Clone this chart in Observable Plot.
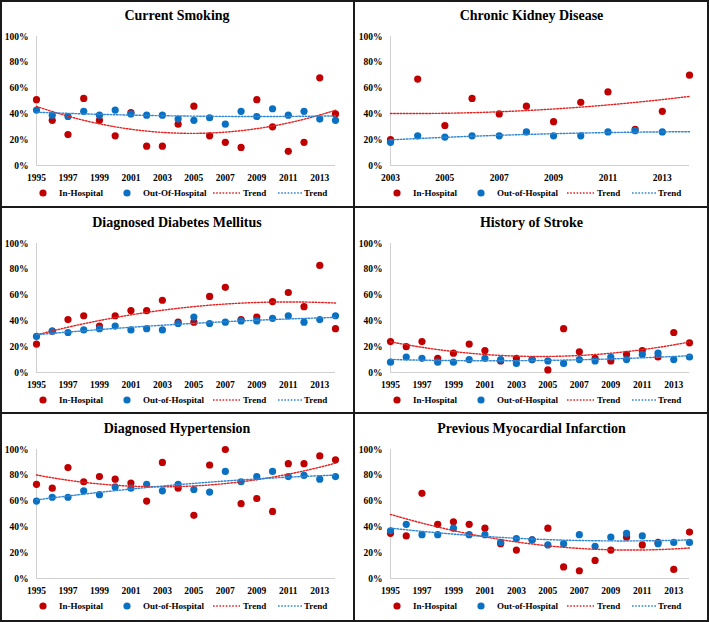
<!DOCTYPE html>
<html>
<head>
<meta charset="utf-8">
<script src="https://cdn.jsdelivr.net/npm/d3@7"></script>
<script src="https://cdn.jsdelivr.net/npm/@observablehq/plot@0.6"></script>
<style>
  html, body { margin: 0; padding: 0; background: #fff; }
  #wrap { position: relative; width: 709px; height: 622px; background: #fff; overflow: hidden;
          font-family: "Liberation Serif", "Times New Roman", serif; }
  .panel { position: absolute; overflow: hidden; }
  .title { position: absolute; left: 0; right: 0; top: 8px; text-align: center; font-weight: bold;
           font-size: 14px; color: #000; }
  .plotbox { position: absolute; left: 0; top: 26px; }
  .legend { position: absolute; left: 0; top: 186px; }
  .line { position: absolute; background: #1a1a1a; z-index: 10; }
</style>
</head>
<body>
<div id="wrap"></div>
<script>
// ---- data (percent values) ----
const yearsLong = [1995,1996,1997,1998,1999,2000,2001,2002,2003,2004,2005,2006,2007,2008,2009,2010,2011,2012,2013,2014];
const yearsCKD  = [2003,2004,2005,2006,2007,2008,2009,2010,2011,2012,2013,2014];
const tickYearsLong = [1995,1997,1999,2001,2003,2005,2007,2009,2011,2013];
const tickYearsCKD  = [2003,2005,2007,2009,2011,2013];
const yTicks = [0,20,40,60,80,100];

const titles = ["Current Smoking","Chronic Kidney Disease","Diagnosed Diabetes Mellitus","History of Stroke","Diagnosed Hypertension","Previous Myocardial Infarction"];
const seriesIn  = "In-Hospital";
const seriesOutFirst = "Out-Of-Hospital";
const seriesOut = "Out-of-Hospital";
const trendLabel = "Trend";

const smokingIn  = [51,35,24,52,35,23,41,15,15,32,46,23,18,14,51,30,11,18,68,40];
const smokingOut = [43,39,38,42,39,43,40,39,39,36,35,37,32,42,38,44,39,42,36,35];

const ckdIn  = [20,67,31,52,40,46,34,49,57,28,42,70];
const ckdOut = [18,23,22,23,23,26,23,23,26,27,26,null];

const diabetesIn  = [22,32,41,44,36,44,48,48,56,39,39,59,66,41,43,55,62,51,83,34];
const diabetesOut = [28,32,31,33,34,36,33,34,33,38,43,38,39,40,40,42,44,39,41,44];

const strokeIn  = [24,20,24,11,15,22,17,9,11,10,2,34,16,11,9,14,17,12,31,23];
const strokeOut = [8,12,11,8,8,10,11,10,7,10,9,7,10,9,12,10,14,15,10,12];

const htnIn  = [73,70,86,75,79,77,74,60,90,70,49,88,100,58,62,52,89,89,95,92];
const htnOut = [60,63,63,68,65,71,70,73,68,73,69,67,83,75,79,83,79,80,77,79];

const miIn  = [35,33,66,42,44,42,39,27,22,30,39,9,6,14,22,32,26,28,7,36];
const miOut = [37,42,34,34,39,34,34,28,31,30,26,27,34,25,32,35,33,27,28,28];

const RED = "#c00000";
const BLUE = "#0a70c2";
const RED_TREND = "#e32222";
const BLUE_TREND = "#2f86d2";
const FONT = '"Liberation Serif", "Times New Roman", serif';

const panels = [
  {title: titles[0], years: yearsLong, ticks: tickYearsLong, vin: smokingIn, vout: smokingOut, outLabel: seriesOutFirst},
  {title: titles[1], years: yearsCKD, ticks: tickYearsCKD, vin: ckdIn, vout: ckdOut, outLabel: seriesOut},
  {title: titles[2], years: yearsLong, ticks: tickYearsLong, vin: diabetesIn, vout: diabetesOut, outLabel: seriesOut},
  {title: titles[3], years: yearsLong, ticks: tickYearsLong, vin: strokeIn, vout: strokeOut, outLabel: seriesOut},
  {title: titles[4], years: yearsLong, ticks: tickYearsLong, vin: htnIn, vout: htnOut, outLabel: seriesOut},
  {title: titles[5], years: yearsLong, ticks: tickYearsLong, vin: miIn, vout: miOut, outLabel: seriesOut}
];

// quadratic least-squares (like a spreadsheet polynomial trendline, order 2)
function quadFit(xs, ys) {
  const pts = xs.map((x, i) => [x, ys[i]]).filter(d => d[1] != null);
  const mx = d3.mean(pts, d => d[0]);
  let S = [0,0,0,0,0], T = [0,0,0];
  for (const [x, y] of pts) {
    const t = x - mx;
    for (let k = 0; k < 5; k++) S[k] += Math.pow(t, k);
    for (let k = 0; k < 3; k++) T[k] += y * Math.pow(t, k);
  }
  const A = [[S[0],S[1],S[2],T[0]],[S[1],S[2],S[3],T[1]],[S[2],S[3],S[4],T[2]]];
  for (let i = 0; i < 3; i++) {
    for (let j = i + 1; j < 3; j++) {
      const f = A[j][i] / A[i][i];
      for (let k = i; k < 4; k++) A[j][k] -= f * A[i][k];
    }
  }
  const c = [0,0,0];
  for (let i = 2; i >= 0; i--) {
    let s = A[i][3];
    for (let k = i + 1; k < 3; k++) s -= A[i][k] * c[k];
    c[i] = s / A[i][i];
  }
  return x => { const t = x - mx; return c[0] + c[1]*t + c[2]*t*t; };
}

const wrap = document.getElementById("wrap");
const colX = [0, 354], colW = [354, 355];
const rowY = [0, 207, 413], rowH = [207, 206, 209];

panels.forEach((p, i) => {
  const col = i % 2, row = Math.floor(i / 2);
  const W = colW[col];
  const div = document.createElement("div");
  div.className = "panel";
  div.style.left = colX[col] + "px"; div.style.top = rowY[row] + "px";
  div.style.width = W + "px"; div.style.height = rowH[row] + "px";
  wrap.appendChild(div);

  const t = document.createElement("div");
  t.className = "title"; t.textContent = p.title;
  div.appendChild(t);

  const data = [];
  p.years.forEach((y, k) => {
    if (p.vin[k] != null) data.push({year: y, value: p.vin[k], s: "in"});
    if (p.vout[k] != null) data.push({year: y, value: p.vout[k], s: "out"});
  });
  const x0 = p.years[0], x1 = p.years[p.years.length - 1];
  const fIn = quadFit(p.years, p.vin), fOut = quadFit(p.years, p.vout);
  const grid = d3.range(0, 201).map(k => x0 + (x1 - x0) * k / 200);
  const trendIn = grid.map(x => ({year: x, value: fIn(x)}));
  const trendOut = grid.map(x => ({year: x, value: fOut(x)}));

  const chart = Plot.plot({
    width: W, height: 160,
    marginTop: 10, marginBottom: 21, marginLeft: 36, marginRight: W - 335,
    style: {fontFamily: FONT, fontSize: "9.5px", fontWeight: "bold", color: "#000", background: "transparent", overflow: "visible"},
    x: {domain: [x0, x1], ticks: p.ticks, tickFormat: d => String(d), tickSize: 0, tickPadding: 9, label: null},
    y: {domain: [0, 100], ticks: yTicks, tickFormat: d => d + "%", tickSize: 0, tickPadding: 8, label: null},
    marks: [
      Plot.ruleX([x0], {stroke: "#d0d0d0", strokeWidth: 1}),
      Plot.ruleY([0], {stroke: "#d0d0d0", strokeWidth: 1}),
      Plot.dot(data.filter(d => d.s === "in"), {x: "year", y: "value", r: 3.6, fill: RED, stroke: "none"}),
      Plot.dot(data.filter(d => d.s === "out"), {x: "year", y: "value", r: 3.6, fill: BLUE, stroke: "none"}),
      Plot.line(trendIn, {x: "year", y: "value", stroke: RED_TREND, strokeWidth: 1.4, strokeDasharray: "1.6,1.6"}),
      Plot.line(trendOut, {x: "year", y: "value", stroke: BLUE_TREND, strokeWidth: 1.4, strokeDasharray: "1.6,1.6"})
    ]
  });
  const box = document.createElement("div");
  box.className = "plotbox";
  box.appendChild(chart);
  div.appendChild(box);

  const lg = document.createElement("div");
  lg.className = "legend";
  lg.innerHTML =
    `<svg width="${W}" height="14" style="font-family:${FONT.replace(/"/g, "'")};font-size:9px;font-weight:bold">
      <circle cx="43" cy="7" r="3.6" fill="${RED}"/>
      <text x="59" y="10">${seriesIn}</text>
      <circle cx="127" cy="7" r="3.6" fill="${BLUE}"/>
      <text x="143" y="10">${p.outLabel}</text>
      <line x1="213" x2="240" y1="7" y2="7" stroke="${RED_TREND}" stroke-width="1.4" stroke-dasharray="1.6,1.6"/>
      <text x="243" y="10">${trendLabel}</text>
      <line x1="278" x2="302" y1="7" y2="7" stroke="${BLUE_TREND}" stroke-width="1.4" stroke-dasharray="1.6,1.6"/>
      <text x="304" y="10">${trendLabel}</text>
    </svg>`;
  div.appendChild(lg);
});

// frame and dividers
function addLine(l, t, w, h) {
  const d = document.createElement("div");
  d.className = "line";
  d.style.left = l + "px"; d.style.top = t + "px"; d.style.width = w + "px"; d.style.height = h + "px";
  wrap.appendChild(d);
}
addLine(0, 0, 709, 2);
addLine(0, 620, 709, 2);
addLine(0, 0, 2, 622);
addLine(707, 0, 2, 622);
addLine(353, 0, 2, 622);
addLine(0, 206, 709, 2);
addLine(0, 412, 709, 2);
</script>
</body>
</html>
